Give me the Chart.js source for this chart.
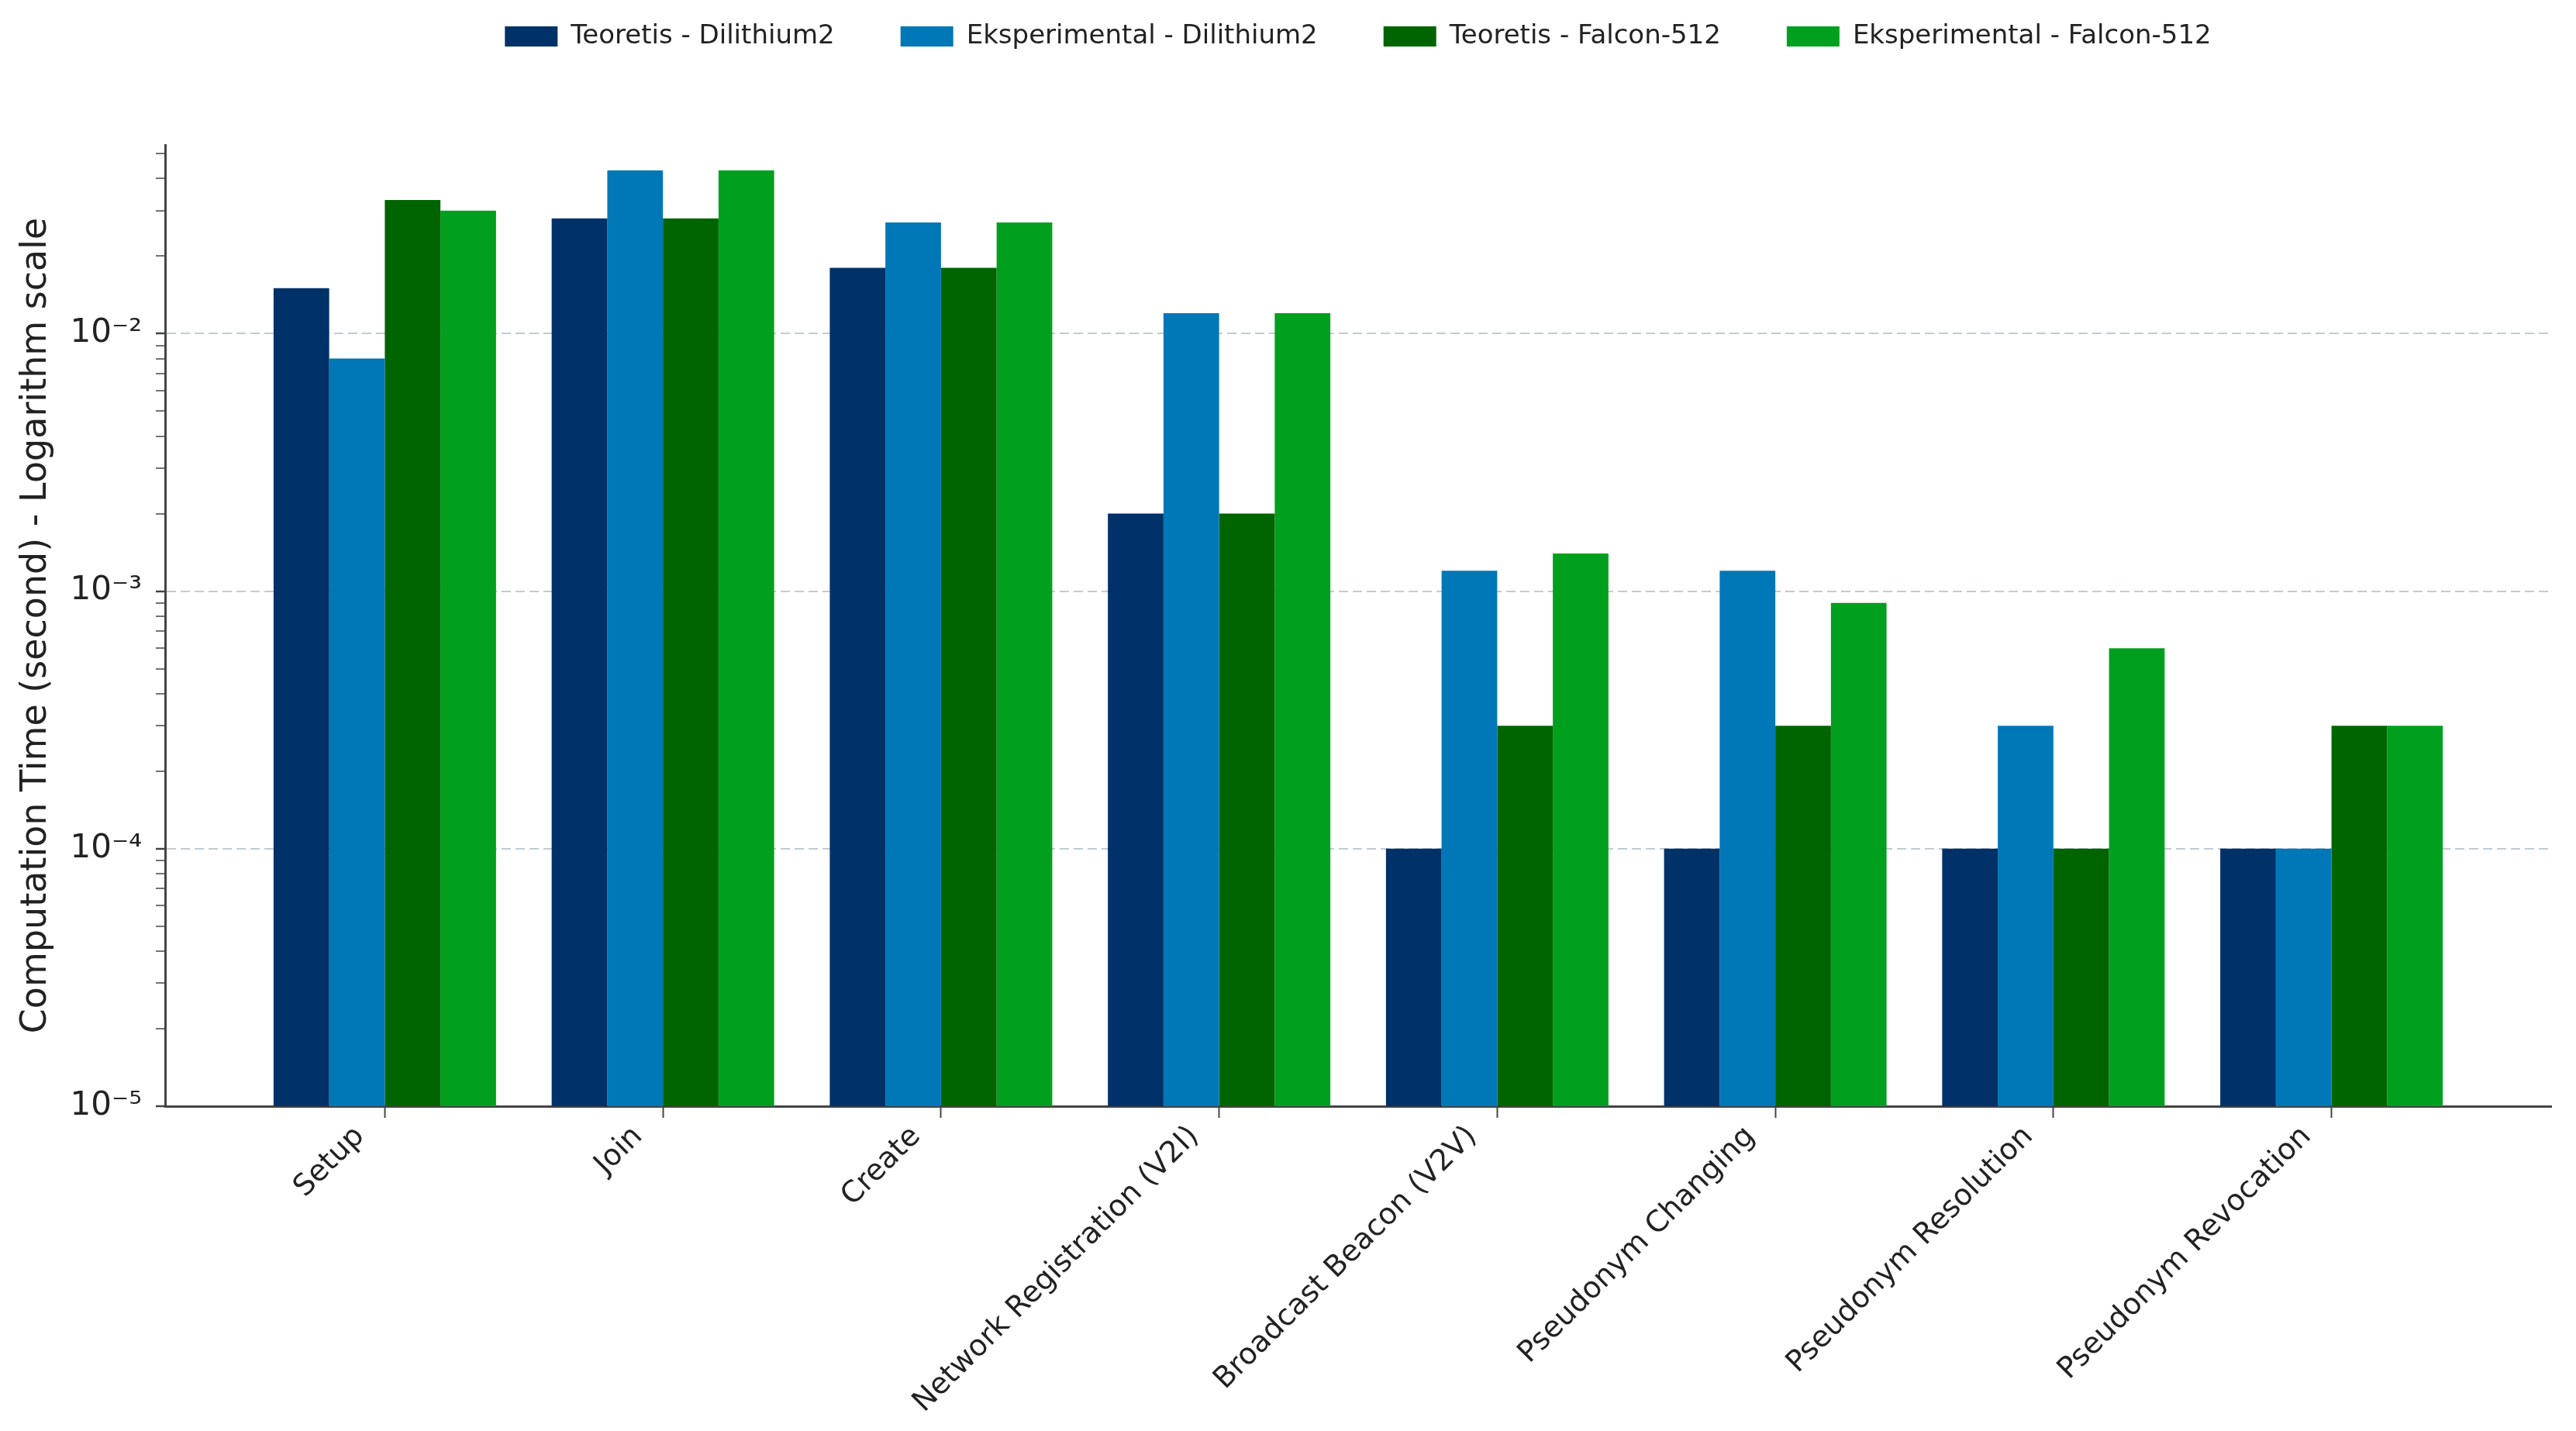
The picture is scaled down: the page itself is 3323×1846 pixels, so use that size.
<!DOCTYPE html>
<html lang="en">
<head>
<meta charset="UTF-8">
<title>Computation Time</title>
<script src="https://cdn.jsdelivr.net/npm/chart.js"></script>
<style>
  html, body { margin: 0; padding: 0; background: #fff; overflow: hidden; }
  #wrap { width: 3323px; height: 1846px; }
</style>
</head>
<body>
<div id="wrap"><canvas id="timeChart"></canvas></div>
<script>
// categories and values (seconds)
const categories = ['Setup', 'Join', 'Create', 'Network Registration (V2I)', 'Broadcast Beacon (V2V)',
                    'Pseudonym Changing', 'Pseudonym Resolution', 'Pseudonym Revocation'];
const teoretisDilithium = [0.015, 0.028, 0.018, 0.002, 0.0001, 0.0001, 0.0001, 0.0001];
const eksperimentalDilithium = [0.008, 0.043, 0.027, 0.012, 0.0012, 0.0012, 0.0003, 0.0001];
const teoretisFalcon = [0.033, 0.028, 0.018, 0.002, 0.0003, 0.0003, 0.0001, 0.0003];
const eksperimentalFalcon = [0.030, 0.043, 0.027, 0.012, 0.0014, 0.0009, 0.0006, 0.0003];

const yDecades = [1e-5, 1e-4, 1e-3, 1e-2];
const yTickLabels = ['10\u207B\u2075', '10\u207B\u2074', '10\u207B\u00B3', '10\u207B\u00B2'];
const yMin = 1e-5, yMax = 0.054;

const seriesNames = ['Teoretis - Dilithium2', 'Eksperimental - Dilithium2', 'Teoretis - Falcon-512', 'Eksperimental - Falcon-512'];
const seriesColors = ['#003168', '#0077B6', '#006400', '#00A01E'];
const seriesValues = [teoretisDilithium, eksperimentalDilithium, teoretisFalcon, eksperimentalFalcon];

const datasets = seriesValues.map((vals, s) => ({
  label: seriesNames[s],
  data: vals.map((v, i) => ({ x: i, y: v })),
  backgroundColor: seriesColors[s],
  borderWidth: 0,
  categoryPercentage: 0.8,
  barPercentage: 1.0
}));

const ctx = document.getElementById('timeChart').getContext('2d');
new Chart(ctx, {
  type: 'bar',
  data: { datasets: datasets },
  options: {
    responsive: true,
    maintainAspectRatio: false,
    devicePixelRatio: 1,
    animation: false,
    layout: { padding: { top: -55, left: 0, right: 32, bottom: 0 } },
    plugins: {
      legend: {
        position: 'top',
        fullSize: false,
        weight: 3000,
        labels: {
          boxWidth: 68,
          boxHeight: 26,
          padding: 85,
          color: '#222',
          font: { family: 'DejaVu Sans', size: 34 }
        }
      },
      // empty title only used as a spacer between legend and plot
      title: {
        display: true,
        text: ' ',
        font: { size: 10 },
        padding: { top: 101, bottom: 0 }
      },
      tooltip: { enabled: false }
    },
    scales: {
      x: {
        type: 'linear',
        min: -0.79,
        max: 7.79,
        offset: false,
        afterBuildTicks: (scale) => { scale.ticks = categories.map((c, i) => ({ value: i })); },
        afterFit: (scale) => { scale.height = 419; },
        ticks: {
          autoSkip: false,
          minRotation: 45,
          maxRotation: 45,
          padding: 2,
          labelOffset: -32,
          color: '#222',
          font: { family: 'DejaVu Sans', size: 38 },
          callback: (v) => categories[v]
        },
        grid: { offset: false, drawOnChartArea: false, drawTicks: true, tickLength: 15, tickColor: '#444', tickWidth: 2 },
        border: { display: true, color: '#444', width: 3 }
      },
      y: {
        type: 'logarithmic',
        min: yMin,
        max: yMax,
        afterBuildTicks: (scale) => {
          const t = [];
          yDecades.forEach((d) => {
            for (let k = 1; k <= 9; k++) {
              const v = d * k;
              if (v <= yMax) t.push({ value: v, major: k === 1 });
            }
          });
          scale.ticks = t;
        },
        afterFit: (scale) => { scale.width = 213; },
        title: {
          display: true,
          text: 'Computation Time (second) - Logarithm scale',
          color: '#222',
          font: { family: 'DejaVu Sans', size: 46 },
          padding: { top: 19, bottom: 0 }
        },
        ticks: {
          autoSkip: false,
          padding: 18,
          color: '#222',
          font: { family: 'DejaVu Sans', size: 42 },
          callback: (v) => {
            const i = yDecades.findIndex((d) => Math.abs(d - v) / d < 1e-6);
            return i >= 0 ? yTickLabels[i] : '';
          }
        },
        grid: {
          drawOnChartArea: true,
          drawTicks: true,
          tickLength: 12,
          tickColor: '#444',
          tickWidth: (c) => (c.tick && c.tick.major ? 2.5 : 1.5),
          color: (c) => (c.tick && c.tick.major ? 'rgba(165,182,194,0.7)' : 'rgba(0,0,0,0)'),
          lineWidth: 2
        },
        border: { display: true, color: '#444', width: 3, dash: [12, 6] }
      }
    }
  }
});
</script>
</body>
</html>
